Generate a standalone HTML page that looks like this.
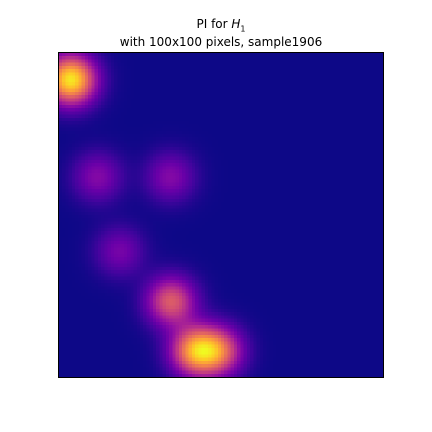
<!DOCTYPE html>
<html><head><meta charset="utf-8"><style>
body{margin:0;background:#fff;width:432px;height:432px;position:relative;overflow:hidden;font-family:"DejaVu Sans","Liberation Sans",sans-serif}
.t{position:absolute;left:0;width:442px;text-align:center;font-size:12px;color:#000;line-height:14px}
#plot{position:absolute;left:58px;top:52px;width:326px;height:326px;image-rendering:pixelated;border:1px solid #000;box-sizing:border-box}
</style></head><body>
<div class="t" style="top:17px">PI for <i>H</i><sub style="font-size:8px">1</sub></div>
<div class="t" style="top:35px">with 100x100 pixels, sample1906</div>
<canvas id="plot" width="100" height="100"></canvas>
<script>
// persistence diagram points (grid coords) and weights
const pointX = [3.7, 11.9, 34.4, 18.7, 34.6, 42.0, 49.5];
const pointY = [8.3, 38.3, 38.3, 61.3, 76.7, 92.0, 92.0];
const pointWeight = [1.08, 0.3, 0.3, 0.26, 0.64, 0.82, 0.62];
const sigma = 5.3;
const plasmaStops = ["#0d0887","#41049d","#6a00a8","#8f0da4","#b12a90","#cc4778","#e16462","#f2844b","#fca636","#fcce25","#f0f921"];
function hex(h){return [1,3,5].map(i=>parseInt(h.substr(i,2),16));}
function cmap(v){v=Math.max(0,Math.min(1,v));const p=v*10,i=Math.min(9,Math.floor(p)),f=p-i;const a=hex(plasmaStops[i]),b=hex(plasmaStops[i+1]);return a.map((c,k)=>Math.round(c+(b[k]-c)*f));}
const N=100,grid=[];let mx=0;
for(let y=0;y<N;y++)for(let x=0;x<N;x++){let s=0;for(let k=0;k<pointX.length;k++){const dx=x+0.5-pointX[k],dy=y+0.5-pointY[k];s+=pointWeight[k]*Math.exp(-(dx*dx+dy*dy)/(2*sigma*sigma));}grid.push(s);if(s>mx)mx=s;}
const cv=document.getElementById('plot'),ctx=cv.getContext('2d'),img=ctx.createImageData(N,N);
grid.forEach((s,i)=>{const c=cmap(s/mx);img.data[i*4]=c[0];img.data[i*4+1]=c[1];img.data[i*4+2]=c[2];img.data[i*4+3]=255;});
ctx.putImageData(img,0,0);
</script>
</body></html>
